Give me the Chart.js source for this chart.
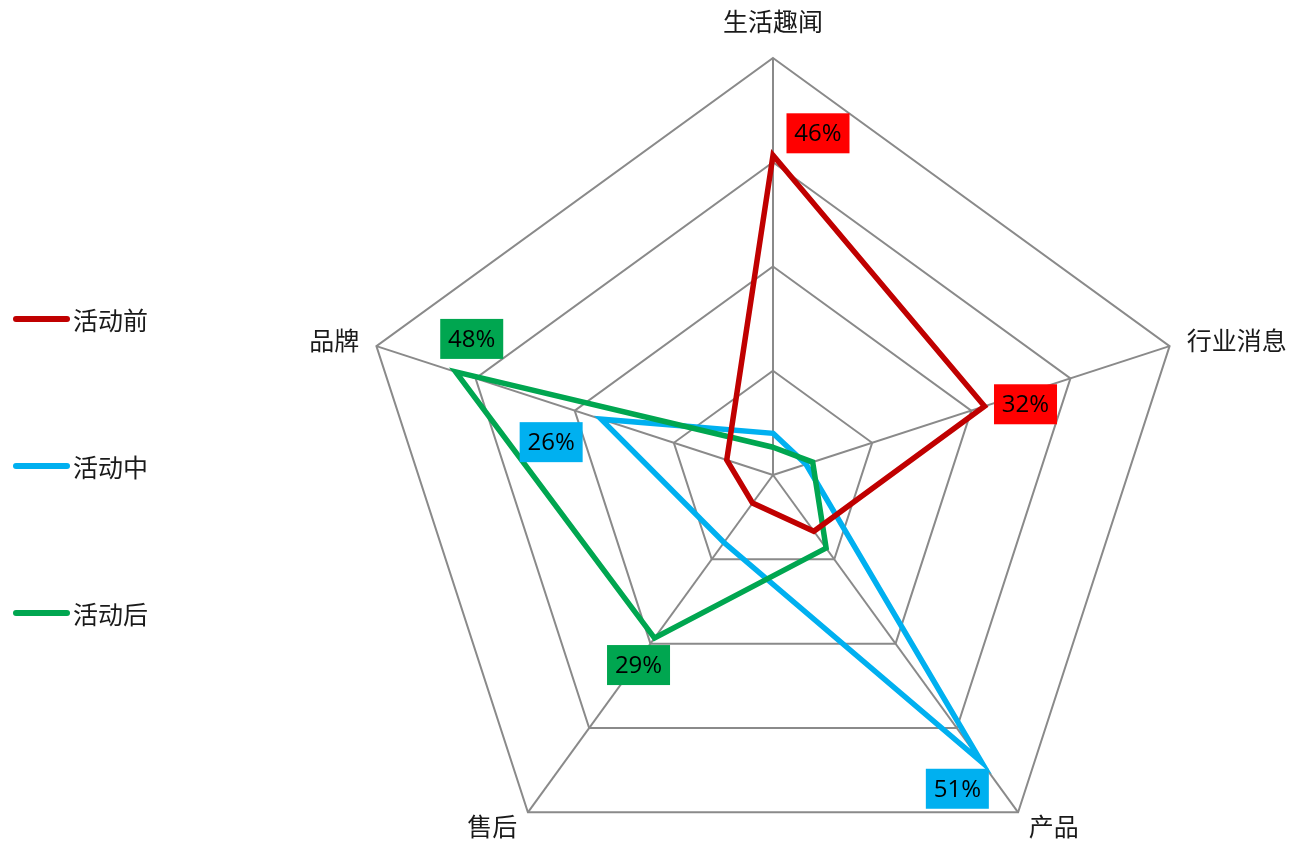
<!DOCTYPE html>
<html>
<head>
<meta charset="utf-8">
<script src="https://cdn.jsdelivr.net/npm/chart.js@4.4.0/dist/chart.umd.min.js"></script>
<style>
  html, body { margin: 0; padding: 0; background: #fff; overflow: hidden; }
  #wrap { position: relative; width: 1296px; height: 842px; overflow: hidden; }
  #radar { position: absolute; left: 0; top: 0; }
  .item { position: absolute; left: 13px; height: 30px; line-height: 30px; display: flex; align-items: center;
          font: 25px "Noto Sans CJK SC"; color: #1a1a1a; white-space: nowrap; }
  .swatch { width: 57px; height: 6px; border-radius: 3px; margin-right: 3px; }
</style>
</head>
<body>
<div id="wrap">
  <canvas id="radar" width="1296" height="900"></canvas>
  <div id="legend"></div>
</div>
<script>
// 数据
const categories = ['生活趣闻', '行业消息', '产品', '售后', '品牌'];
const seriesNames = ['活动前', '活动中', '活动后'];
const beforeValues = [0.46, 0.32, 0.10, 0.05, 0.07];
const duringValues = [0.06, 0.05, 0.51, 0.12, 0.26];
const afterValues = [0.04, 0.06, 0.13, 0.29, 0.48];
const scaleMax = 0.6;
const scaleStep = 0.15;

// 样式
const lineColors = ['#C00000', '#00B0F0', '#00A650'];
const boxColors = ['#FF0000', '#00B0F0', '#00A650'];
const gridColor = '#8a8a8a';
// 每个系列的两个最大值标签的偏移 (相对于数据点)
const labelOffsets = [
  { 0: [45, -22], 1: [41, -2] },
  { 2: [-24, 27], 4: [-50, 23] },
  { 4: [16, -33], 3: [-16, 27] }
];

// 图例 (HTML)
const legend = document.getElementById('legend');
seriesNames.forEach((name, i) => {
  const div = document.createElement('div');
  div.className = 'item';
  div.style.top = (319 + i * 147 - 15) + 'px';
  div.innerHTML = `<span class="swatch" style="background:${lineColors[i]}"></span>${name}`;
  legend.appendChild(div);
});

// 轴标签
const axisLabelPlugin = {
  id: 'axisLabels',
  afterDraw(chart) {
    const scale = chart.scales.r;
    const ctx = chart.ctx;
    ctx.save();
    ctx.font = '25px "Noto Sans CJK SC"';
    ctx.fillStyle = '#1a1a1a';
    ctx.textBaseline = 'middle';
    categories.forEach((name, i) => {
      const s = Math.sin(scale.getIndexAngle(i));
      const top = Math.abs(s) < 0.1;
      const p = scale.getPointPosition(i, scale.drawingArea + (top ? 37 : 18));
      ctx.textAlign = top ? 'center' : (s > 0 ? 'left' : 'right');
      ctx.fillText(name, p.x, p.y);
    });
    ctx.restore();
  }
};

// 数值标签 (彩色底框)
const valueLabelPlugin = {
  id: 'valueLabels',
  afterDatasetsDraw(chart) {
    const ctx = chart.ctx;
    ctx.save();
    chart.data.datasets.forEach((ds, d) => {
      const meta = chart.getDatasetMeta(d);
      Object.keys(labelOffsets[d]).forEach(key => {
        const idx = Number(key);
        const [dx, dy] = labelOffsets[d][key];
        const pt = meta.data[idx];
        const x = pt.x + dx, y = pt.y + dy;
        ctx.fillStyle = boxColors[d];
        ctx.fillRect(x - 31.5, y - 20, 63, 40);
        ctx.fillStyle = '#000';
        ctx.font = '24px "Open Sans"';
        ctx.textAlign = 'center';
        ctx.textBaseline = 'middle';
        ctx.fillText(Math.round(ds.data[idx] * 100) + '%', x, y + 1);
      });
    });
    ctx.restore();
  }
};

const ctx = document.getElementById('radar').getContext('2d');
new Chart(ctx, {
  type: 'radar',
  data: {
    labels: categories,
    datasets: [
      { label: seriesNames[0], data: beforeValues, borderColor: lineColors[0], borderWidth: 5.5, order: 0 },
      { label: seriesNames[1], data: duringValues, borderColor: lineColors[1], borderWidth: 5.5, order: 2 },
      { label: seriesNames[2], data: afterValues, borderColor: lineColors[2], borderWidth: 5.5, order: 1 }
    ]
  },
  options: {
    responsive: false,
    animation: false,
    layout: { padding: { left: 356, right: 106, top: 58, bottom: 8 } },
    plugins: {
      legend: { display: false },
      tooltip: { enabled: false }
    },
    elements: {
      line: { tension: 0, fill: false, borderJoinStyle: 'miter' },
      point: { radius: 0, hoverRadius: 0 }
    },
    scales: {
      r: {
        min: 0,
        max: scaleMax,
        ticks: { stepSize: scaleStep, display: false },
        grid: { color: gridColor, lineWidth: 2 },
        angleLines: { color: gridColor, lineWidth: 2 },
        pointLabels: { display: false }
      }
    }
  },
  plugins: [axisLabelPlugin, valueLabelPlugin]
});
</script>
</body>
</html>
